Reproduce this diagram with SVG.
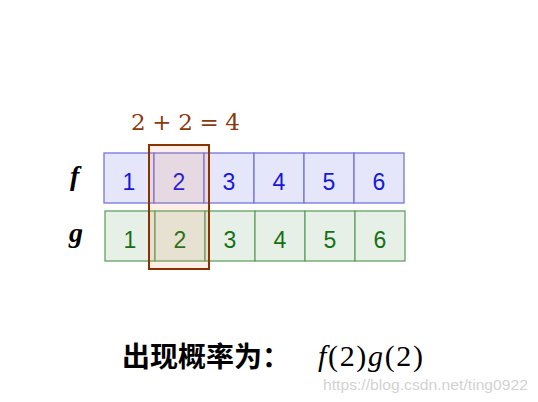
<svg xmlns="http://www.w3.org/2000/svg" width="538" height="402" viewBox="0 0 538 402">
<style>
.fc{fill:#e6e6fa;stroke:#7575e0;stroke-width:1.3}
.gc{fill:#e7f0e7;stroke:#64a064;stroke-width:1.3}
.fn{font-family:"Liberation Sans",Arial,sans-serif;font-size:23px;fill:#1616e0;text-anchor:middle}
.gn{font-family:"Liberation Sans",Arial,sans-serif;font-size:23px;fill:#157015;text-anchor:middle}
.lab{font-family:"Liberation Serif","Times New Roman",serif;font-style:italic;font-weight:bold;font-size:28px;fill:#000}
.it{font-style:italic}
</style>
<rect width="538" height="402" fill="#fff"/>
<g id="row-f">
<rect class="fc" x="104" y="153" width="50" height="50"/>
<rect class="fc" x="154" y="153" width="50" height="50"/>
<rect class="fc" x="204" y="153" width="50" height="50"/>
<rect class="fc" x="254" y="153" width="50" height="50"/>
<rect class="fc" x="304" y="153" width="50" height="50"/>
<rect class="fc" x="354" y="153" width="50" height="50"/>
<text class="fn" x="129" y="190">1</text>
<text class="fn" x="179" y="190">2</text>
<text class="fn" x="229" y="190">3</text>
<text class="fn" x="279" y="190">4</text>
<text class="fn" x="329" y="190">5</text>
<text class="fn" x="379" y="190">6</text>
</g>
<g id="row-g">
<rect class="gc" x="105" y="211" width="50" height="50"/>
<rect class="gc" x="155" y="211" width="50" height="50"/>
<rect class="gc" x="205" y="211" width="50" height="50"/>
<rect class="gc" x="255" y="211" width="50" height="50"/>
<rect class="gc" x="305" y="211" width="50" height="50"/>
<rect class="gc" x="355" y="211" width="50" height="50"/>
<text class="gn" x="130" y="248">1</text>
<text class="gn" x="180" y="248">2</text>
<text class="gn" x="230" y="248">3</text>
<text class="gn" x="280" y="248">4</text>
<text class="gn" x="330" y="248">5</text>
<text class="gn" x="380" y="248">6</text>
</g>
<g id="labels">
<text class="lab" x="70" y="185">f</text>
<text class="lab" x="69" y="242">g</text>
</g>
<g id="highlight">
<rect x="149" y="145" width="60" height="124" fill="#e87a3c" fill-opacity="0.12" stroke="#8b3300" stroke-width="2"/>
</g>
<g id="sum-label">
<text x="131" y="130" font-family="'DejaVu Serif',serif" font-size="23" fill="#8b3a0e" textLength="109" lengthAdjust="spacing">2 + 2 = 4</text>
</g>
<g id="caption">
<text x="122" y="367" font-family="'Noto Sans CJK SC',sans-serif" font-weight="bold" font-size="28" fill="#000">出现概率为：</text>
<text x="318" y="366" font-family="'Liberation Serif','Times New Roman',serif" font-size="30" fill="#000" textLength="105" lengthAdjust="spacing"><tspan class="it">f</tspan>(2)<tspan class="it">g</tspan>(2)</text>
</g>
<text x="323" y="390" font-family="'Liberation Sans',Arial,sans-serif" font-size="15" fill="#d2d2d2" textLength="205" lengthAdjust="spacingAndGlyphs">https://blog.csdn.net/ting0922</text>
</svg>
